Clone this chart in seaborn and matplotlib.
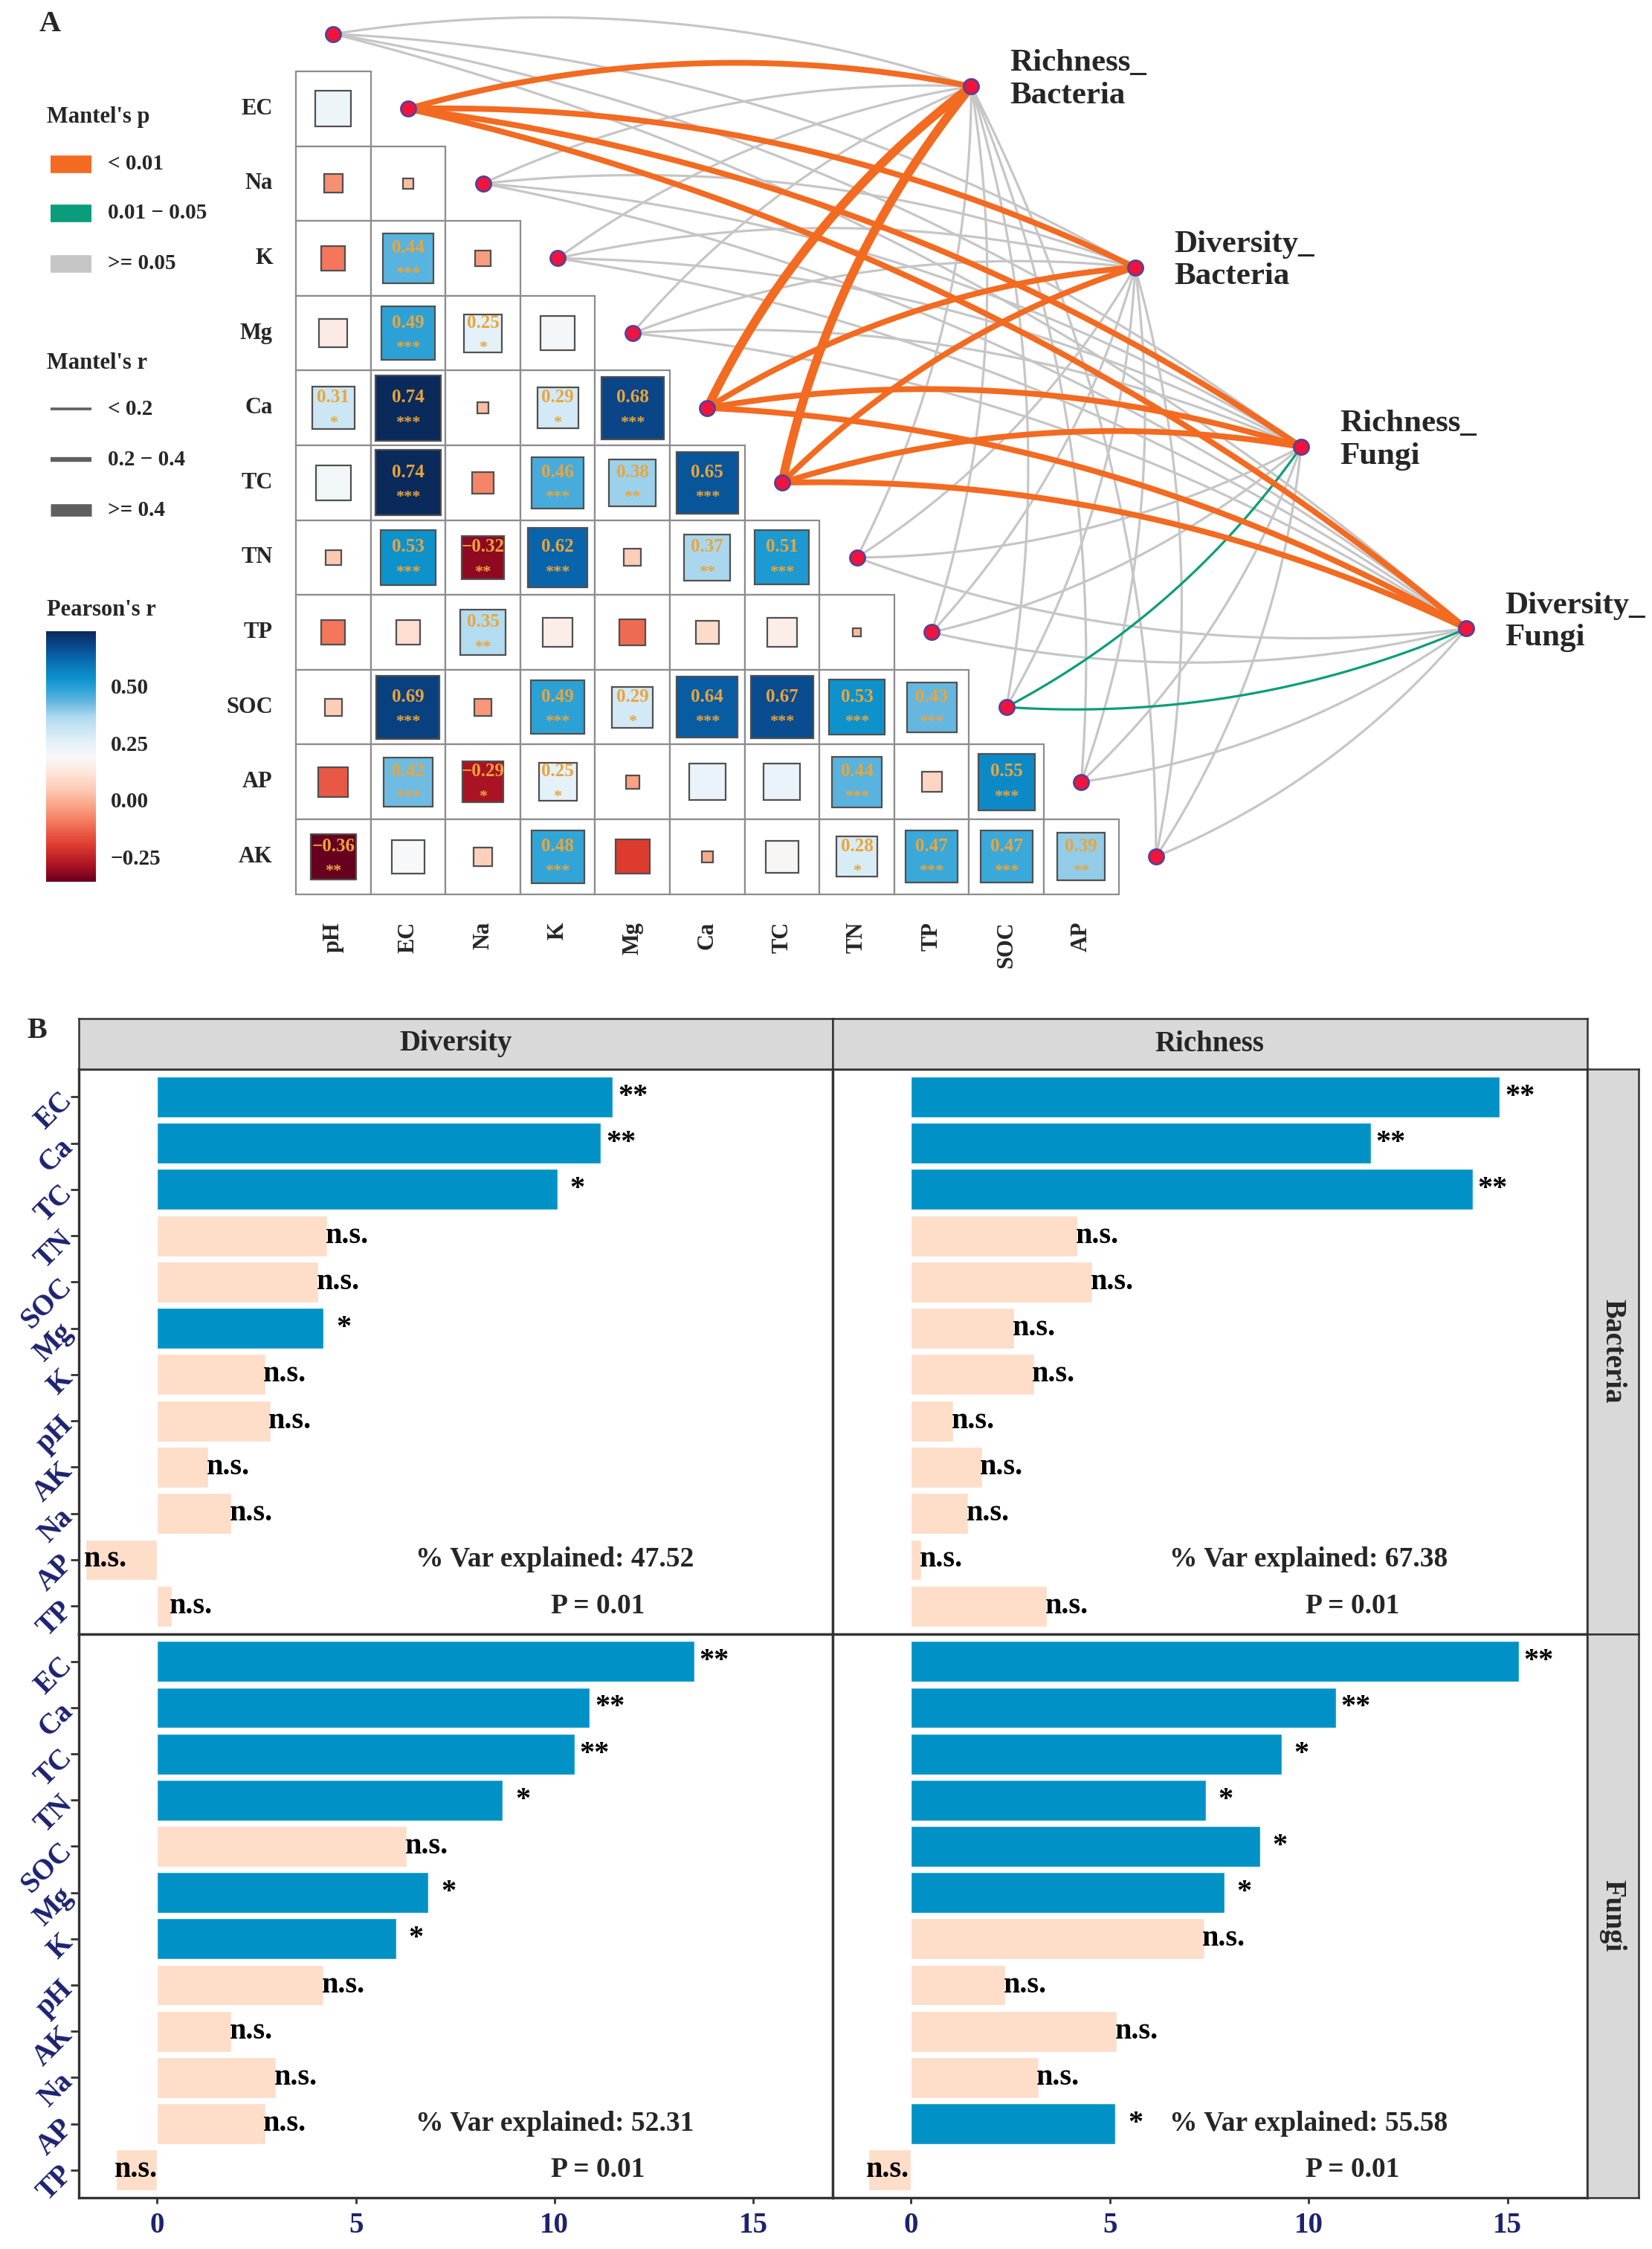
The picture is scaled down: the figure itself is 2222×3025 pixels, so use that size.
import numpy as np
import pandas as pd
import matplotlib
matplotlib.use("Agg")
import matplotlib.pyplot as plt
from matplotlib.patches import Rectangle
from matplotlib.colors import Normalize, LinearSegmentedColormap
from matplotlib.cm import ScalarMappable
import seaborn as sns

# ---------------- Panel A data: Pearson's r among soil properties ----------------
row_vars = ['EC', 'Na', 'K', 'Mg', 'Ca', 'TC', 'TN', 'TP', 'SOC', 'AP', 'AK']
col_vars = ['pH', 'EC', 'Na', 'K', 'Mg', 'Ca', 'TC', 'TN', 'TP', 'SOC', 'AP']

pearson_r = [
    [0.22],
    [-0.06, 0.02],
    [-0.10, 0.44, -0.04],
    [0.14, 0.49, 0.25, 0.20],
    [0.31, 0.74, 0.02, 0.29, 0.68],
    [0.21, 0.74, -0.08, 0.46, 0.38, 0.65],
    [0.04, 0.53, -0.32, 0.62, 0.05, 0.37, 0.51],
    [-0.10, 0.10, 0.35, 0.15, -0.12, 0.09, 0.15, 0.01],
    [0.05, 0.69, -0.05, 0.49, 0.29, 0.64, 0.67, 0.53, 0.43],
    [-0.15, 0.42, -0.29, 0.25, -0.03, 0.23, 0.23, 0.44, 0.07, 0.55],
    [-0.36, 0.19, 0.06, 0.48, -0.20, -0.02, 0.18, 0.28, 0.47, 0.47, 0.39],
]
pearson_sig = [
    [''],
    ['', ''],
    ['', '***', ''],
    ['', '***', '*', ''],
    ['*', '***', '', '*', '***'],
    ['', '***', '', '***', '**', '***'],
    ['', '***', '**', '***', '', '**', '***'],
    ['', '', '**', '', '', '', '', ''],
    ['', '***', '', '***', '*', '***', '***', '***', '***'],
    ['', '***', '*', '*', '', '', '', '***', '', '***'],
    ['**', '', '', '***', '', '', '', '*', '***', '***', '**'],
]
cbar_ticks = [-0.25, 0.00, 0.25, 0.50]

# Mantel test: env nodes along the diagonal, 4 community indices
env_nodes = ['pH', 'EC', 'Na', 'K', 'Mg', 'Ca', 'TC', 'TN', 'TP', 'SOC', 'AP', 'AK']
targets = ['Richness_\nBacteria', 'Diversity_\nBacteria', 'Richness_\nFungi', 'Diversity_\nFungi']
mantel_r_rich_bac = [0.08, 0.34, 0.05, 0.10, 0.09, 0.45, 0.47, 0.06, 0.04, 0.12, 0.05, 0.07]
mantel_p_rich_bac = [0.30, 0.001, 0.45, 0.20, 0.25, 0.001, 0.001, 0.40, 0.60, 0.10, 0.50, 0.35]
mantel_r_div_bac = [0.06, 0.30, 0.04, 0.09, 0.08, 0.30, 0.32, 0.05, 0.03, 0.11, 0.04, 0.06]
mantel_p_div_bac = [0.35, 0.001, 0.50, 0.22, 0.28, 0.001, 0.001, 0.45, 0.65, 0.12, 0.55, 0.40]
mantel_r_rich_fun = [0.05, 0.30, 0.03, 0.08, 0.07, 0.31, 0.30, 0.09, 0.04, 0.16, 0.05, 0.06]
mantel_p_rich_fun = [0.40, 0.001, 0.60, 0.25, 0.30, 0.001, 0.001, 0.15, 0.55, 0.03, 0.45, 0.38]
mantel_r_div_fun = [0.05, 0.31, 0.04, 0.09, 0.07, 0.30, 0.31, 0.10, 0.05, 0.17, 0.06, 0.07]
mantel_p_div_fun = [0.42, 0.001, 0.55, 0.20, 0.32, 0.001, 0.001, 0.12, 0.50, 0.02, 0.40, 0.33]
mantel_r = [mantel_r_rich_bac, mantel_r_div_bac, mantel_r_rich_fun, mantel_r_div_fun]
mantel_p = [mantel_p_rich_bac, mantel_p_div_bac, mantel_p_rich_fun, mantel_p_div_fun]

# ---------------- Panel B data: random forest importance ----------------
rf_vars = ['EC', 'Ca', 'TC', 'TN', 'SOC', 'Mg', 'K', 'pH', 'AK', 'Na', 'AP', 'TP']
imp_div_bac = [11.47, 11.17, 10.07, 4.28, 4.06, 4.19, 2.72, 2.85, 1.29, 1.87, -1.80, 0.36]
sig_div_bac = ['**', '**', '*', 'n.s.', 'n.s.', '*', 'n.s.', 'n.s.', 'n.s.', 'n.s.', 'n.s.', 'n.s.']
imp_rich_bac = [14.81, 11.57, 14.13, 4.18, 4.55, 2.59, 3.09, 1.06, 1.78, 1.44, 0.25, 3.41]
sig_rich_bac = ['**', '**', '**', 'n.s.', 'n.s.', 'n.s.', 'n.s.', 'n.s.', 'n.s.', 'n.s.', 'n.s.', 'n.s.']
imp_div_fun = [13.52, 10.89, 10.50, 8.70, 6.28, 6.83, 6.02, 4.18, 1.87, 2.99, 2.72, -1.04]
sig_div_fun = ['**', '**', '**', '*', 'n.s.', '*', '*', 'n.s.', 'n.s.', 'n.s.', 'n.s.', 'n.s.']
imp_rich_fun = [15.29, 10.68, 9.32, 7.41, 8.78, 7.88, 7.37, 2.37, 5.18, 3.20, 5.14, -1.08]
sig_rich_fun = ['**', '**', '*', '*', '*', '*', 'n.s.', 'n.s.', 'n.s.', 'n.s.', '*', 'n.s.']
var_explained = {('Bacteria', 'Diversity'): 47.52, ('Bacteria', 'Richness'): 67.38,
                 ('Fungi', 'Diversity'): 52.31, ('Fungi', 'Richness'): 55.58}
model_p = {('Bacteria', 'Diversity'): 0.01, ('Bacteria', 'Richness'): 0.01,
           ('Fungi', 'Diversity'): 0.01, ('Fungi', 'Richness'): 0.01}
x_ticks = [0, 5, 10, 15]

frames = []
for grp, idx, imp, sig in [('Bacteria', 'Diversity', imp_div_bac, sig_div_bac),
                           ('Bacteria', 'Richness', imp_rich_bac, sig_rich_bac),
                           ('Fungi', 'Diversity', imp_div_fun, sig_div_fun),
                           ('Fungi', 'Richness', imp_rich_fun, sig_rich_fun)]:
    frames.append(pd.DataFrame({'group': grp, 'index': idx, 'variable': rf_vars,
                                'importance': imp, 'label': sig}))
rf_df = pd.concat(frames, ignore_index=True)
rf_df['cls'] = np.where(rf_df['label'] == 'n.s.', 'ns', 'sig')

# ---------------- style ----------------
sns.set_style("white")
plt.rcParams.update({
    "font.family": ["Liberation Serif", "DejaVu Serif"],
    "font.weight": "bold",
    "axes.unicode_minus": True,
})

ORANGE = '#F36A21'
GREEN = '#0A9D7B'
GREY = '#C6C6C6'
BLUE = '#0092C6'
PEACH = '#FEDDC9'
NAVY = '#1D2270'
GOLD = '#E9A53C'

W, H = 2222, 3025
fig = plt.figure(figsize=(W / 100, H / 100), dpi=100)


def fig_rect(x0, y0, x1, y1):
    """pixel box (top-left origin) -> figure fraction rect"""
    return [x0 / W, 1 - y1 / H, (x1 - x0) / W, (y1 - y0) / H]


# diverging fill, white near 0.19 (middle of the data range)
r_min, r_max = -0.36, 0.74
stops = [(-0.36, '#67001F'), (-0.30, '#A50F22'), (-0.20, '#DE3B2F'), (-0.10, '#F4785C'),
         (-0.03, '#F9A385'), (0.05, '#FCCDB8'), (0.12, '#FEE6DB'), (0.19, '#F7F8FA'),
         (0.25, '#E4F1F8'), (0.31, '#CBE6F4'), (0.37, '#AAD7EE'), (0.43, '#64B7E0'),
         (0.48, '#33A5D8'), (0.53, '#0E93CD'), (0.58, '#0A7DBE'), (0.63, '#0862A8'),
         (0.68, '#09478A'), (0.74, '#0A2A5C')]
cmap = LinearSegmentedColormap.from_list(
    'pearson', [((v - r_min) / (r_max - r_min), c) for v, c in stops])
norm = Normalize(vmin=r_min, vmax=r_max)

# ================= Panel A =================
cell = 100.6
gx0, gy0 = 398, 96
ax_a = fig.add_axes(fig_rect(0, 0, W, 1300))
ax_a.set_xlim(-gx0 / cell, (W - gx0) / cell)
ax_a.set_ylim((1300 - gy0) / cell, -gy0 / cell)
ax_a.axis('off')

for i, row in enumerate(pearson_r):
    for j, r in enumerate(row):
        ax_a.add_patch(Rectangle((j, i), 1, 1, facecolor='white', edgecolor='#8C8C8C',
                                 lw=1.6, zorder=1))
        side = 0.875 * np.sqrt(abs(r) / 0.74)
        ax_a.add_patch(Rectangle((j + 0.5 - side / 2, i + 0.5 - side / 2), side, side,
                                 facecolor=cmap(norm(r)), edgecolor='#505050', lw=1.6, zorder=2))
        stars = pearson_sig[i][j]
        if stars:
            ax_a.text(j + 0.5, i + 0.36, f"{r:.2f}".replace('-', '\u2212'), ha='center',
                      va='center', fontsize=18, color=GOLD, zorder=3)
            ax_a.text(j + 0.5, i + 0.70, stars, ha='center', va='center', fontsize=16,
                      color=GOLD, zorder=3)
    ax_a.text(-0.31, i + 0.5, row_vars[i], ha='right', va='center', fontsize=22)

for j, name in enumerate(col_vars):
    ax_a.text(j + 0.5, len(row_vars) + 0.37, name, rotation=90, ha='center', va='top',
              fontsize=22)

# node positions: env nodes sit on the diagonal, targets on a line to the right
env_xy = np.array([(k + 0.5, k - 0.5) for k in range(len(env_nodes))])
target_xy = np.array([(9.03, 0.20), (11.22, 2.62), (13.44, 5.02), (15.65, 7.45)])


def curve(p0, p1, bend, k=0.12, n=80):
    d = p1 - p0
    L = np.hypot(d[0], d[1])
    nvec = np.array([d[1], -d[0]]) / L * bend
    ctrl = (p0 + p1) / 2 + nvec * k * L
    t = np.linspace(0, 1, n)[:, None]
    return (1 - t) ** 2 * p0 + 2 * (1 - t) * t * ctrl + t ** 2 * p1


def edge_color(p):
    return ORANGE if p < 0.01 else (GREEN if p < 0.05 else GREY)


def edge_width(r):
    return 2.3 if r < 0.2 else (5.6 if r < 0.4 else 8.5)


edges = []
for t in range(len(targets)):
    for k in range(len(env_nodes)):
        edges.append((t, k, mantel_r[t][k], mantel_p[t][k]))
# grey first, then green, then orange on top
edges.sort(key=lambda e: 0 if e[3] >= 0.05 else (1 if e[3] >= 0.01 else 2))
for t, k, r, p in edges:
    bend = 1 if k < 7 else -1
    pts = curve(env_xy[k], target_xy[t], bend)
    z = 4 if p >= 0.05 else 5
    ax_a.plot(pts[:, 0], pts[:, 1], color=edge_color(p), lw=edge_width(r),
              solid_capstyle='round', zorder=z)

ax_a.scatter(env_xy[:, 0], env_xy[:, 1], s=210, c='#F0143C', edgecolors='#5B3F95',
             linewidths=2, zorder=7)
ax_a.scatter(target_xy[:, 0], target_xy[:, 1], s=210, c='#F0143C', edgecolors='#5B3F95',
             linewidths=2, zorder=7)
for (tx, ty), name in zip(target_xy, targets):
    ax_a.text(tx + 0.52, ty - 0.09, name, ha='left', va='center', fontsize=31,
              linespacing=1.2)

# ---- legends (pixel coordinates) ----
lax = fig.add_axes([0, 0, 1, 1])
lax.set_xlim(0, W)
lax.set_ylim(H, 0)
lax.axis('off')
lax.text(67, 33, 'A', fontsize=29, ha='center', va='center')
lax.text(50, 1387, 'B', fontsize=29, ha='center', va='center')

lax.text(63, 157, "Mantel's p", fontsize=22, ha='left', va='center')
for y, col, lab in [(221, ORANGE, '< 0.01'), (287, GREEN, '0.01 \u2212 0.05'),
                    (355, GREY, '>= 0.05')]:
    lax.plot([68, 123], [y, y], color=col, lw=17, solid_capstyle='butt')
    lax.text(145, y, lab, fontsize=21, ha='left', va='center')

lax.text(63, 488, "Mantel's r", fontsize=22, ha='left', va='center')
for y, lw, lab in [(550, 2.6, '< 0.2'), (618, 4.6, '0.2 \u2212 0.4'), (686, 12, '>= 0.4')]:
    lax.plot([68, 123], [y, y], color='#5F5F5F', lw=lw, solid_capstyle='butt')
    lax.text(145, y, lab, fontsize=21, ha='left', va='center')

lax.text(63, 820, "Pearson's r", fontsize=22, ha='left', va='center')
cax = fig.add_axes(fig_rect(62, 849, 129, 1186))
cb = fig.colorbar(ScalarMappable(norm=norm, cmap=cmap), cax=cax, ticks=cbar_ticks)
cb.outline.set_visible(False)
cb.set_ticklabels([f"{v:.2f}".replace('-', '\u2212') for v in cbar_ticks])
cax.tick_params(axis='y', direction='in', length=11, width=1.5, color='white',
                left=True, right=True, labelleft=False, labelright=True,
                labelsize=21, pad=14)

# ================= Panel B =================
col_x = {'Diversity': (106, 1120), 'Richness': (1120, 2134.6)}
row_y = {'Bacteria': (1438, 2197.5), 'Fungi': (2197.5, 2956)}
palette = {'sig': BLUE, 'ns': PEACH}
n_var = len(rf_vars)

for grp in ['Bacteria', 'Fungi']:
    for idx in ['Diversity', 'Richness']:
        x0, x1 = col_x[idx]
        y0, y1 = row_y[grp]
        ax = fig.add_axes(fig_rect(x0, y0, x1, y1))
        sub = rf_df[(rf_df['group'] == grp) & (rf_df['index'] == idx)]
        sns.barplot(data=sub, x='importance', y='variable', hue='cls', order=rf_vars,
                    hue_order=['sig', 'ns'], palette=palette, dodge=False, width=0.88,
                    orient='h', errorbar=None, saturation=1, legend=False,
                    edgecolor='white', linewidth=1, ax=ax)
        for i, (v, lab) in enumerate(zip(sub['importance'], sub['label'])):
            ax.text(v + 0.5, i, lab, ha='center', va='center', fontsize=29, color='black')
        ax.text(10.0, n_var - 2, f"% Var explained: {var_explained[(grp, idx)]:.2f}",
                ha='center', va='center', fontsize=27)
        ax.text(11.1, n_var - 1, f"P = {model_p[(grp, idx)]:.2f}", ha='center',
                va='center', fontsize=27)
        ax.set_xlim(-1.97, 17.0)
        ax.set_ylim(n_var - 0.4, -0.6)
        ax.set_xlabel('')
        ax.set_ylabel('')
        ax.set_xticks(x_ticks)
        ax.set_yticks(range(n_var))
        for sp in ax.spines.values():
            sp.set_color('#333333')
            sp.set_linewidth(2.4)
        if idx == 'Diversity':
            ax.set_yticklabels(rf_vars, rotation=45, ha='right', va='center',
                               rotation_mode='anchor', color=NAVY, fontsize=28)
            ax.tick_params(axis='y', left=True, length=8, width=2, color='#333333', pad=2)
        else:
            ax.tick_params(axis='y', left=False, labelleft=False)
        if grp == 'Fungi':
            ax.set_xticklabels([str(t) for t in x_ticks], color=NAVY, fontsize=28)
            ax.tick_params(axis='x', bottom=True, length=6, width=2, color='#333333', pad=8)
        else:
            ax.tick_params(axis='x', bottom=False, labelbottom=False)

        # top strips
        if grp == 'Bacteria':
            sax = fig.add_axes(fig_rect(x0, 1370, x1, 1438))
            sax.set_facecolor('#D9D9D9')
            sax.set_xticks([])
            sax.set_yticks([])
            for sp in sax.spines.values():
                sp.set_color('#333333')
                sp.set_linewidth(1.8)
            sax.text(0.5, 0.5, idx, transform=sax.transAxes, ha='center', va='center',
                     fontsize=28)
        # right strips
        if idx == 'Richness':
            rax = fig.add_axes(fig_rect(2134.6, y0, 2204, y1))
            rax.set_facecolor('#D9D9D9')
            rax.set_xticks([])
            rax.set_yticks([])
            for sp in rax.spines.values():
                sp.set_color('#333333')
                sp.set_linewidth(1.8)
            rax.text(0.5, 0.5, grp, transform=rax.transAxes, ha='center', va='center',
                     rotation=-90, fontsize=28)

fig.savefig('out.png', dpi=100)
